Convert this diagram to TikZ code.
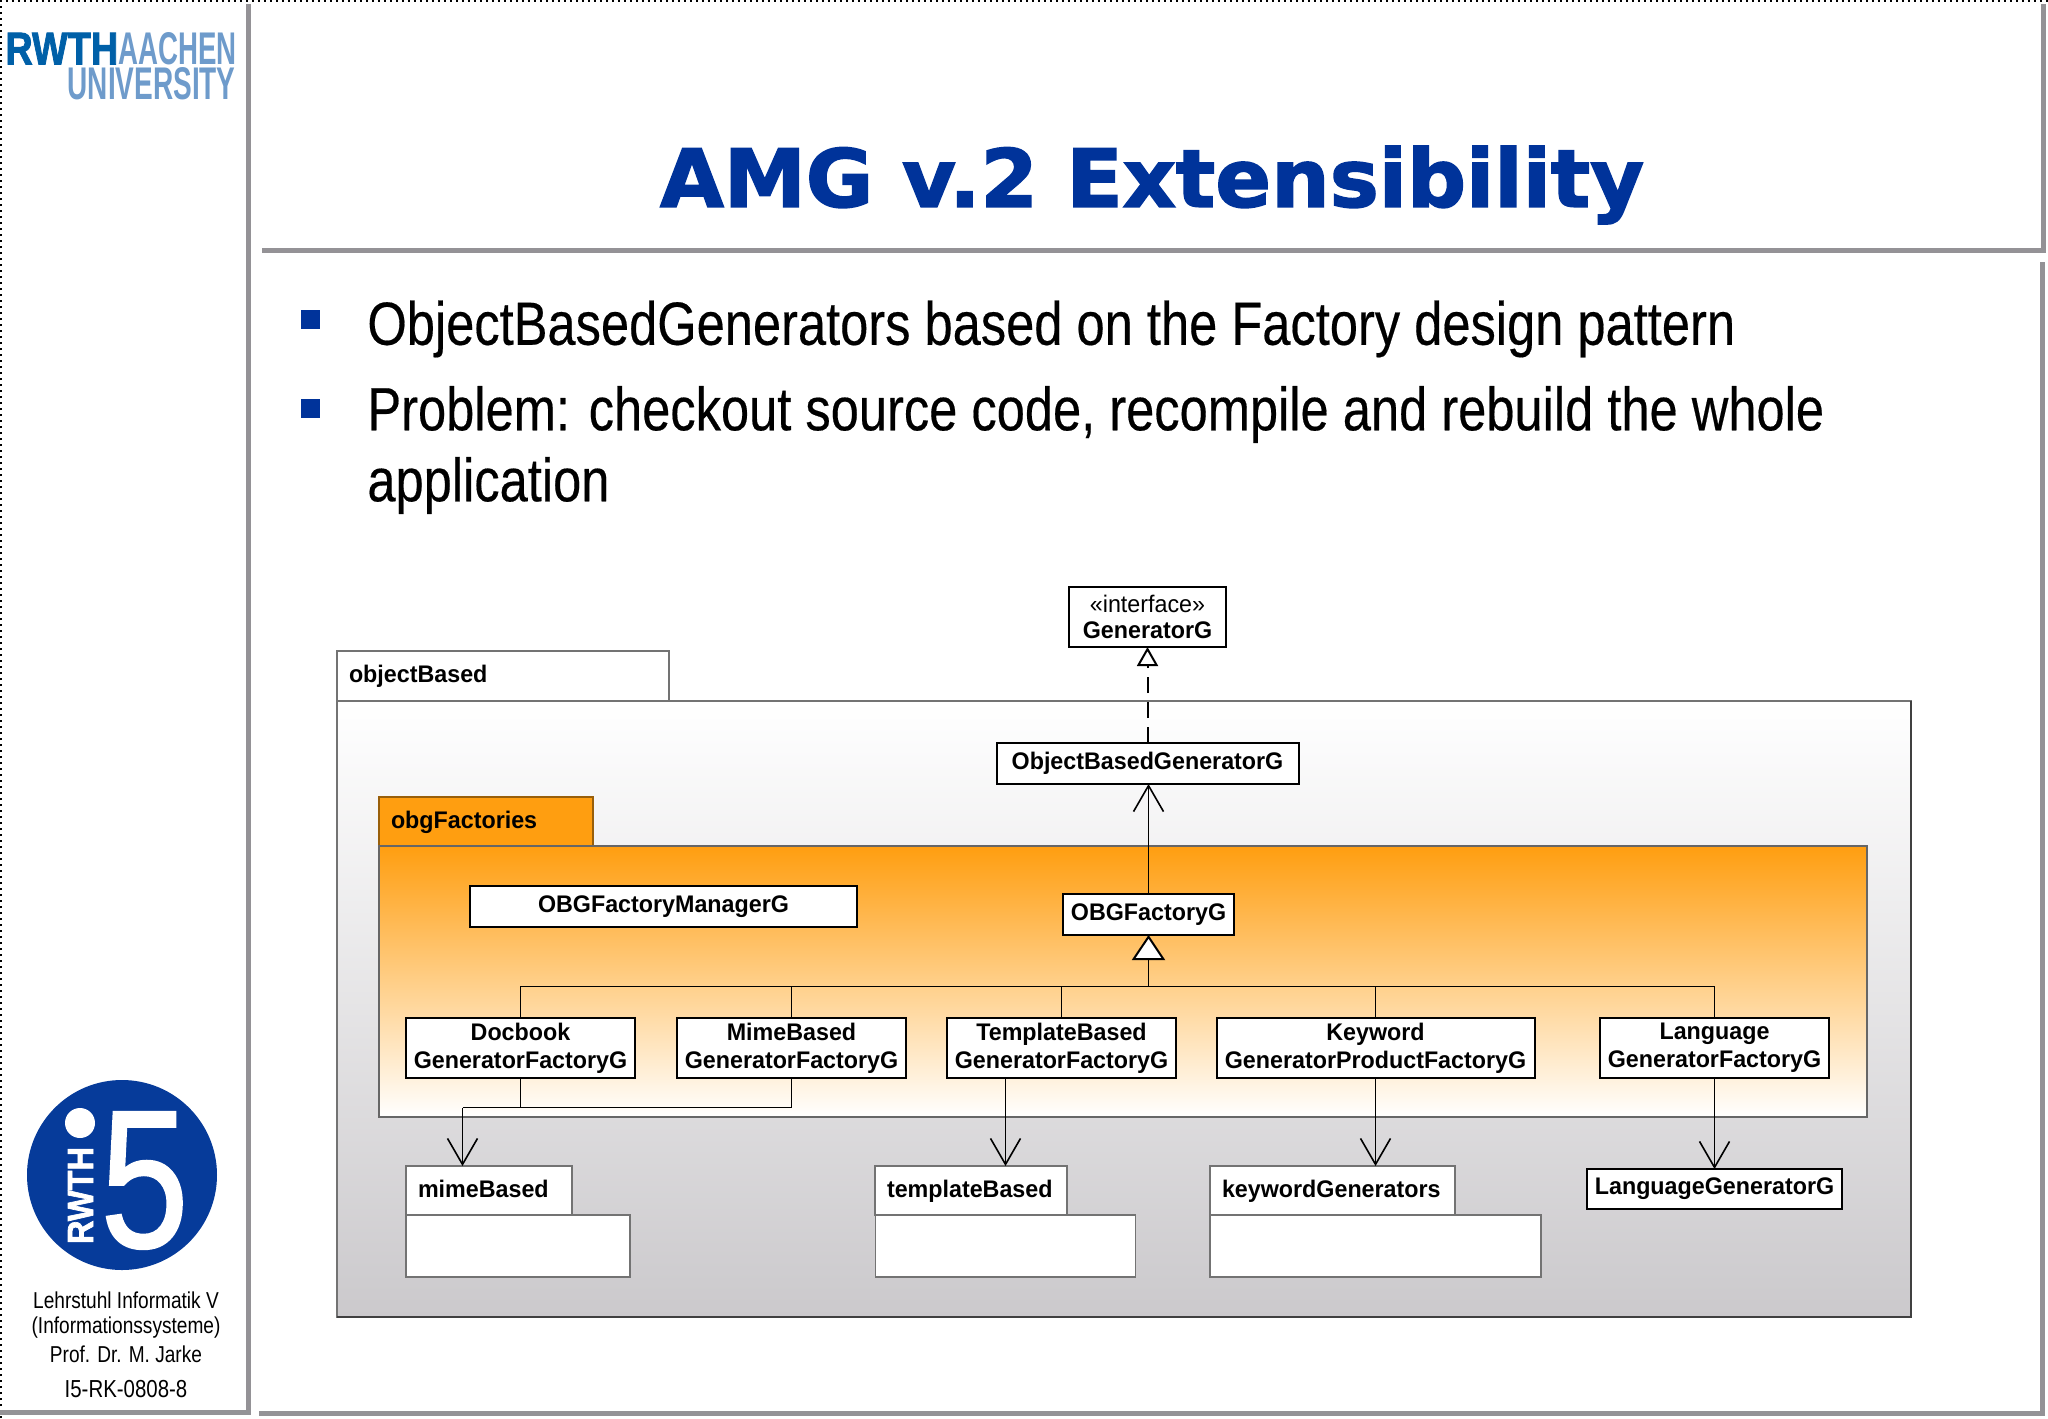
\documentclass[tikz,border=0pt]{standalone}
\usepackage{fontspec}
\usepackage{graphicx}
\usetikzlibrary{arrows.meta}
\setmainfont{Liberation Sans}
\newfontfamily\slidefont[FakeStretch=0.83,FakeBold=0.3]{Liberation Sans}
\newfontfamily\umlfont[FakeStretch=0.97]{Liberation Sans}
\newfontfamily\sidefont[FakeStretch=0.83]{Liberation Sans}
\newfontfamily\heavyfont[BoldFeatures={FakeBold=2}]{Liberation Sans}
\newfontfamily\digitfont[FakeBold=1.2]{Liberation Sans}
\newfontfamily\titlefont[FakeStretch=1.03,BoldFeatures={FakeBold=2}]{DejaVu Sans}
\definecolor{rwthblue}{HTML}{0060A8}
\definecolor{rwthlight}{HTML}{6E9BCB}
\definecolor{slideblue}{HTML}{00339A}
\definecolor{frameblue}{HTML}{063B9A}
\definecolor{framegray}{HTML}{949296}
\definecolor{pkgorange}{HTML}{FF9E10}
\definecolor{pkggray}{HTML}{CBC9CC}
\tikzset{
	frameline/.style={framegray, line width=2.5pt},
	size/.style 2 args={minimum width=#1*0.5pt, minimum height=#2*0.5pt},
	umlclass/.style={draw=black, fill=white, line width=1pt, inner sep=0pt, outer sep=0pt, align=center, font=\umlfont\fontsize{12}{14}\selectfont\bfseries},
	pkgbody/.style={draw=black!55, fill=white, line width=0.6pt, inner sep=0pt, outer sep=0pt},
	pkgtab/.style={pkgbody, inner xsep=6pt, align=left, text height=9pt, text depth=2.5pt, font=\umlfont\fontsize{12}{14}\selectfont\bfseries},
	tabwidth/.style={text width=#1*0.5pt-12pt},
	connector/.style={black, line width=0.8pt},
	assoc/.style={connector, -{Straight Barb[length=13pt,width=15pt]}},
	general/.style={connector, -{Triangle[open,length=12.5pt,width=16.5pt,fill=white,line width=1pt]}},
	realize/.style={connector, line width=1pt, dash pattern=on 8pt off 4.5pt, -{Triangle[open,length=9.5pt,width=10.5pt,fill=white,line width=1pt]}},
	bullet/.style={fill=slideblue, inner sep=0pt, outer sep=0pt, minimum size=9.5pt},
	bullettext/.style={anchor=west, inner sep=0pt, align=left, font=\slidefont\fontsize{30.5}{35.5}\selectfont},
	sidetext/.style={inner sep=0pt, text=black, font=\sidefont\fontsize{11.5}{13}\selectfont},
}
\begin{document}
\begin{tikzpicture}[x=0.5pt, y=-0.5pt]
	\useasboundingbox (0,0) rectangle (2048,1418);
	\fill[white] (0,0) rectangle (2048,1418);

	% slide frame
	\draw[black, line width=1pt, dotted] (1,1418) -- (1,1) -- (2048,1);
	\draw[frameline] (248,4) -- (248,1412) -- (0,1412);
	\draw[frameline] (262,250) -- (2043,250) -- (2043,4);
	\draw[frameline] (2042,262) -- (2042,1413) -- (259,1413);

	% logo top left
	\node[inner sep=0pt, anchor=north west] (rwth) at (5,32) {\resizebox{115.5pt}{16pt}{\bfseries\textcolor{rwthblue}{\heavyfont\scalebox{1.37}[1]{RWTH}}\textcolor{rwthlight}{AACHEN}}};
	\node[inner sep=0pt, text=rwthlight, anchor=north east] (university) at (236,67) {\resizebox{84pt}{16pt}{\bfseries UNIVERSITY}};

	% i5 logo
	\fill[frameblue] (122,1175) circle(95);
	\fill[white] (80,1123) circle(15);
	\node[inner sep=0pt, text=white, rotate=90] (rwthfive) at (80.5,1195.5) {\resizebox{48.5pt}{12.5pt}{\heavyfont\bfseries RWTH}};
	\node[inner sep=0pt, text=white] (five) at (144.5,1180.5) {\resizebox{44pt}{67.5pt}{\digitfont 5}};

	\node[sidetext] (chair) at (126,1300) {Lehrstuhl Informatik V};
	\node[sidetext] (infsys) at (126,1328) {(Informationssysteme)};
	\node[sidetext] (prof) at (126,1354) {Prof. Dr. M. Jarke};
	\node[sidetext, font=\sidefont\fontsize{12.3}{14}\selectfont] (slideid) at (126,1389) {I5-RK-0808-8};

	% title and bullets
	\node[inner sep=0pt, text=slideblue, font=\titlefont\fontsize{40}{46}\selectfont\bfseries] (title) at (1152,185) {AMG v.2 Extensibility};
	\node[bullet] (bulletone) at (310,319) {};
	\node[bullet] (bullettwo) at (310,408) {};
	\node[bullettext] (textone) at (367,329) {ObjectBasedGenerators based on the Factory design pattern};
	\node[bullettext] (texttwo) at (367,450) {Problem: checkout source code, recompile and rebuild the whole\\application};

	% packages
	\node[pkgtab, tabwidth=332, size={332}{50}, top color=white, bottom color=white] (objtab) at (503,676) {objectBased};
	\node[pkgbody, size={1574}{616}, top color=white, bottom color=pkggray] (objbody) at (1124,1009) {};
	\draw[black!75, line width=0.8pt] (objbody.north east) -- (objbody.south east) -- (objbody.south west);
	\node[pkgtab, tabwidth=214, size={214}{49}, fill=pkgorange, draw=pkgorange!60!black] (factab) at (486,821.5) {obgFactories};
	\node[pkgbody, size={1488}{271}, top color=pkgorange, bottom color=white, draw=black!60] (facbody) at (1123,981.5) {};

	\node[pkgtab, tabwidth=166, size={166}{49}] (mimetab) at (489,1190.5) {mimeBased};
	\node[pkgbody, size={224}{62}] (mimebody) at (518,1246) {};
	\node[pkgtab, tabwidth=192, size={192}{49}] (templatetab) at (971,1190.5) {templateBased};
	\node[pkgbody, size={260}{62}] (templatebody) at (1005.5,1246) {};
	\node[pkgtab, tabwidth=245, size={245}{49}] (keywordtab) at (1332.5,1190.5) {keywordGenerators};
	\node[pkgbody, size={331}{62}] (keywordbody) at (1375.5,1246) {};

	% classes
	\node[umlclass, size={157}{60}] (gen) at (1147.5,617) {{\mdseries\guillemotleft interface\guillemotright}\\[-1pt]GeneratorG};
	\node[umlclass, size={302}{41}] (objgen) at (1147.5,763.5) {ObjectBasedGeneratorG};
	\node[umlclass, size={171}{41}] (obgfac) at (1148.5,914.5) {OBGFactoryG};
	\node[umlclass, size={387}{41}] (manager) at (663.5,906.5) {OBGFactoryManagerG};
	\node[umlclass, size={229}{60}] (docbook) at (520.5,1048) {Docbook\\GeneratorFactoryG};
	\node[umlclass, size={229}{60}] (mimefac) at (791.5,1048) {MimeBased\\GeneratorFactoryG};
	\node[umlclass, size={229}{60}] (templatefac) at (1061.5,1048) {TemplateBased\\GeneratorFactoryG};
	\node[umlclass, size={318}{60}] (keywordfac) at (1375.5,1048) {Keyword\\GeneratorProductFactoryG};
	\node[umlclass, size={229}{60}] (languagefac) at (1714.5,1048) {Language\\GeneratorFactoryG};
	\node[umlclass, line width=1.3pt, size={255}{40}] (langgen) at (1714.5,1189) {LanguageGeneratorG};

	% connectors
	\coordinate (bus) at (1148.5,986.5);
	\coordinate (mimejoin) at (462.5,1107.5);
	\draw[realize] (objgen.north) -- (gen.south);
	\draw[assoc] (obgfac.north) -- (obgfac.north |- objgen.south);
	\draw[connector] (docbook.north) |- (bus);
	\draw[connector] (mimefac.north) |- (bus);
	\draw[connector] (templatefac.north) |- (bus);
	\draw[connector] (keywordfac.north) |- (bus);
	\draw[connector] (languagefac.north) |- (bus);
	\draw[general] (bus) -- (obgfac.south);
	\draw[connector] (docbook.south) -- (docbook.south |- mimejoin);
	\draw[connector] (mimefac.south) |- (mimejoin);
	\draw[assoc] (mimejoin) -- (mimejoin |- mimetab.north);
	\draw[assoc] (templatebody |- templatefac.south) -- (templatebody |- templatetab.north);
	\draw[assoc] (keywordfac.south) -- (keywordfac.south |- keywordtab.north);
	\draw[assoc] (languagefac.south) -- (langgen.north);
\end{tikzpicture}
\end{document}
